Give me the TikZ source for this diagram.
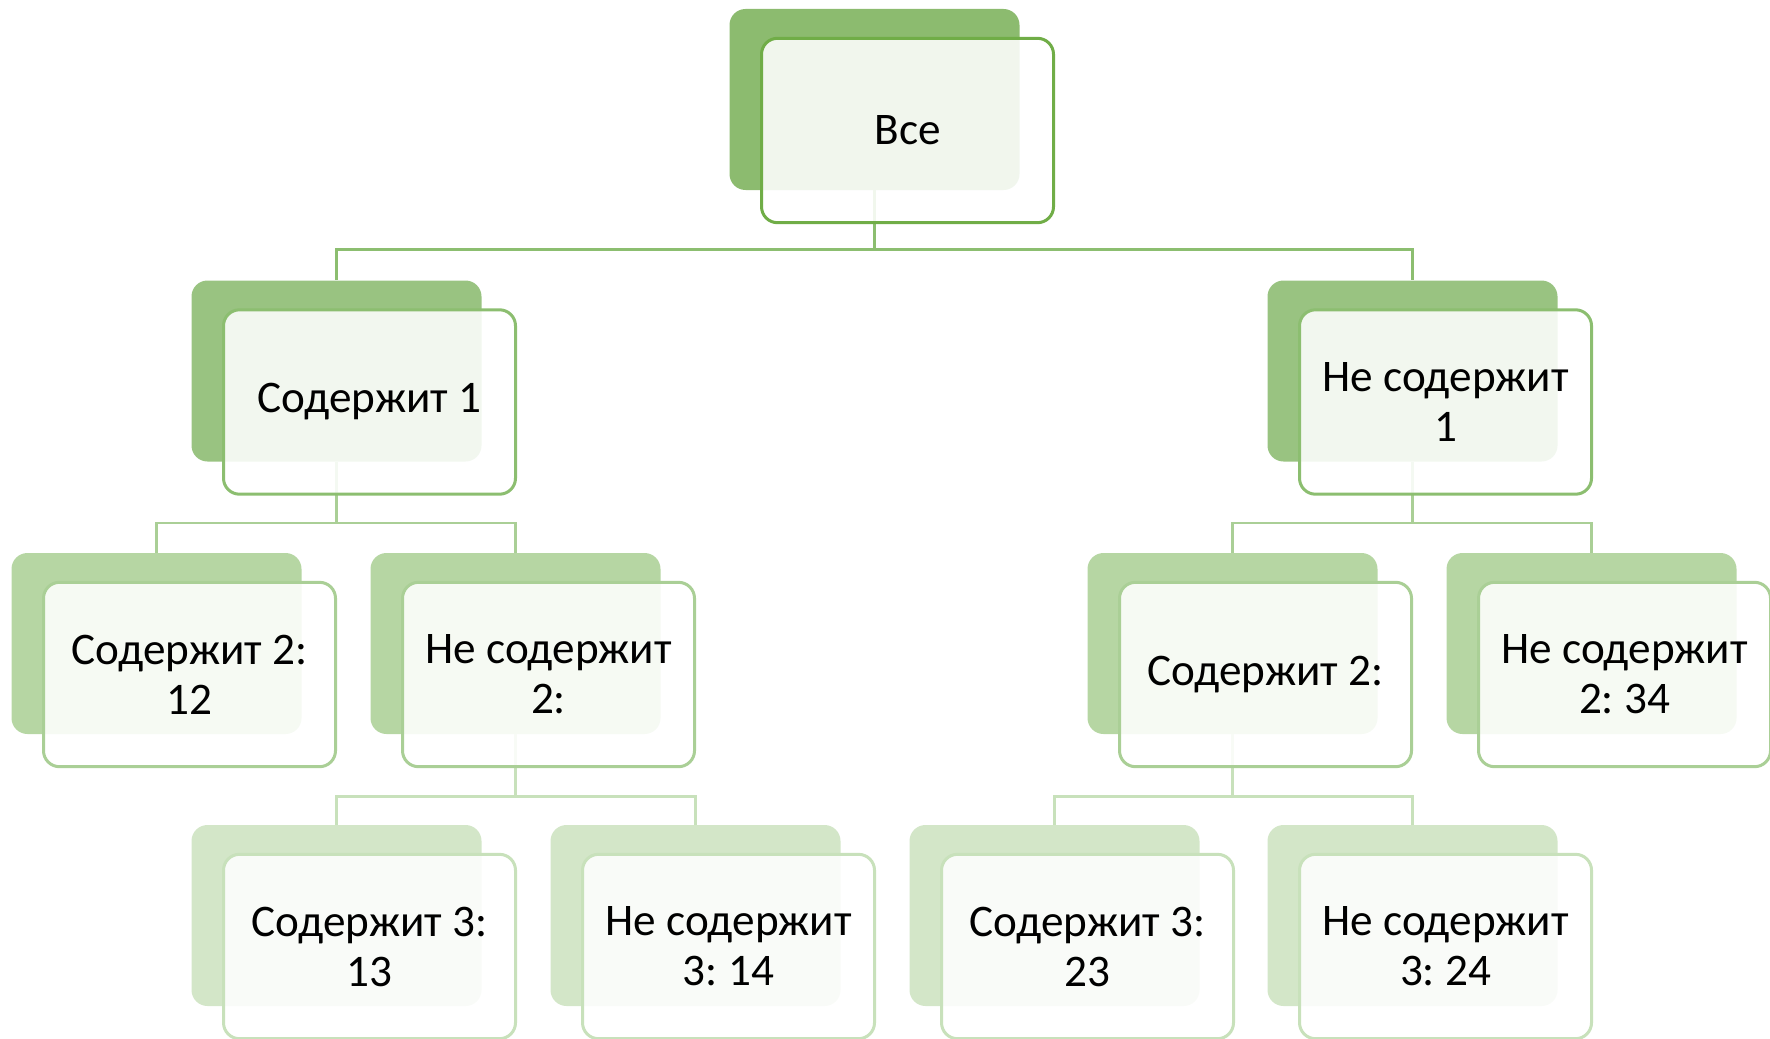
\documentclass[tikz,border=0pt]{standalone}
\usepackage{fontspec}
\setmainfont{Carlito}
\usepackage{tikz}
\frenchspacing

% shades of green, one per level
\definecolor{back0}{RGB}{140,187,111}
\definecolor{back1}{RGB}{153,195,129}
\definecolor{back2}{RGB}{182,214,163}
\definecolor{back3}{RGB}{211,230,200}
\definecolor{edge0}{RGB}{112,173,71}
\definecolor{edge1}{RGB}{140,190,112}
\definecolor{edge2}{RGB}{170,207,150}
\definecolor{edge3}{RGB}{200,225,187}

\tikzset{
  card/.style={rounded corners=8pt, inner sep=0pt, minimum width=145pt, minimum height=90.5pt},
  shade0/.style={card, fill=back0},
  shade1/.style={card, fill=back1},
  shade2/.style={card, fill=back2},
  shade3/.style={card, fill=back3},
  label/.style={card, minimum width=146pt, minimum height=92.2pt, draw, line width=1.5pt,
    fill=white, fill opacity=0.88, text opacity=1, align=center,
    font=\fontsize{22.6}{25}\selectfont},
  label0/.style={label, draw=edge0},
  label1/.style={label, draw=edge1},
  label2/.style={label, draw=edge2},
  label3/.style={label, draw=edge3},
  link/.style={line width=1.3pt},
}

\begin{document}
\begin{tikzpicture}[x=0.5pt,y=-0.5pt]
  \useasboundingbox (0,0) rectangle (1770,1038);

  % back cards
  \node[shade0] (all) at (874.5,99.5) {};
  \node[shade1] (c1) at (336.5,371) {};
  \node[shade1] (n1) at (1412.5,371) {};
  \node[shade2] (c1c2) at (156.5,643.5) {};
  \node[shade2] (c1n2) at (515.5,643.5) {};
  \node[shade2] (n1c2) at (1232.5,643.5) {};
  \node[shade2] (n1n2) at (1591.5,643.5) {};
  \node[shade3] (c1n2c3) at (336.5,915.5) {};
  \node[shade3] (c1n2n3) at (695.5,915.5) {};
  \node[shade3] (n1c2c3) at (1054.5,915.5) {};
  \node[shade3] (n1c2n3) at (1412.5,915.5) {};

  % tree links
  \draw[link, edge1] (all.south) -- ++(0,59) -| (c1.north);
  \draw[link, edge1] (all.south) -- ++(0,59) -| (n1.north);
  \draw[link, edge2] (c1.south) -- ++(0,61) -| (c1c2.north);
  \draw[link, edge2] (c1.south) -- ++(0,61) -| (c1n2.north);
  \draw[link, edge2] (n1.south) -- ++(0,61) -| (n1c2.north);
  \draw[link, edge2] (n1.south) -- ++(0,61) -| (n1n2.north);
  \draw[link, edge3] (c1n2.south) -- ++(0,62) -| (c1n2c3.north);
  \draw[link, edge3] (c1n2.south) -- ++(0,62) -| (c1n2n3.north);
  \draw[link, edge3] (n1c2.south) -- ++(0,62) -| (n1c2c3.north);
  \draw[link, edge3] (n1c2.south) -- ++(0,62) -| (n1c2n3.north);

  % front cards with the text
  \node[label0] (allT) at ([shift={(33,31)}]all) {Все};
  \node[label1] (c1T) at ([shift={(33,31)}]c1) {Содержит 1};
  \node[label1] (n1T) at ([shift={(33,31)}]n1) {Не содержит\\1};
  \node[label2] (c1c2T) at ([shift={(33,31)}]c1c2) {Содержит 2:\\12};
  \node[label2] (c1n2T) at ([shift={(33,31)}]c1n2) {Не содержит\\2:};
  \node[label2] (n1c2T) at ([shift={(33,31)}]n1c2) {Содержит 2:};
  \node[label2] (n1n2T) at ([shift={(33,31)}]n1n2) {Не содержит\\2: 34};
  \node[label3] (c1n2c3T) at ([shift={(33,31)}]c1n2c3) {Содержит 3:\\13};
  \node[label3] (c1n2n3T) at ([shift={(33,31)}]c1n2n3) {Не содержит\\3: 14};
  \node[label3] (n1c2c3T) at ([shift={(33,31)}]n1c2c3) {Содержит 3:\\23};
  \node[label3] (n1c2n3T) at ([shift={(33,31)}]n1c2n3) {Не содержит\\3: 24};
\end{tikzpicture}
\end{document}
